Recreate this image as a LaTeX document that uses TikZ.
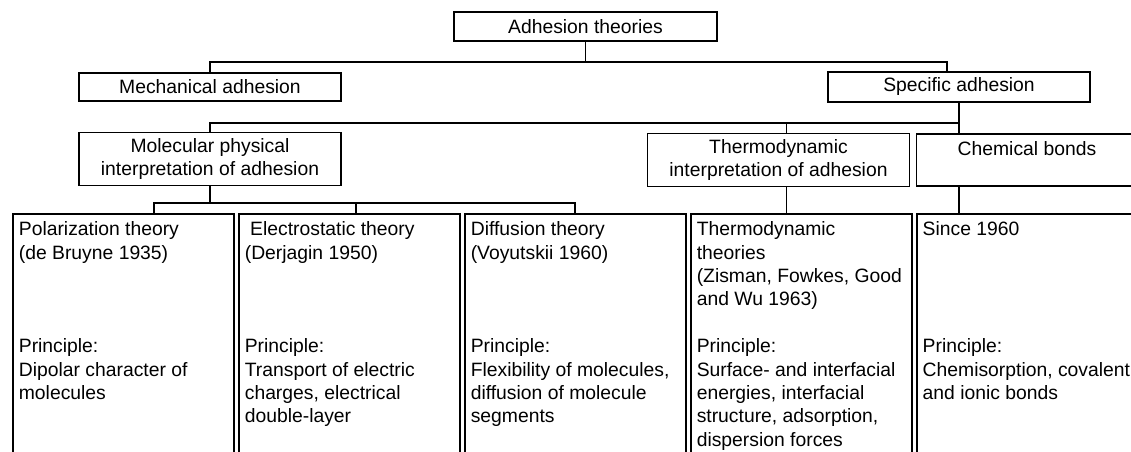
\documentclass[tikz,border=0pt]{standalone}
\usepackage{fontspec}
\setmainfont{Liberation Sans}
\usetikzlibrary{positioning}

\newcommand{\theorytext}[1]{\parbox[t][6cm][t]{4.18cm}{\raggedright #1}}

\begin{document}
\begin{tikzpicture}[x=0.02cm, y=-0.02cm,
        every node/.style={font=\fontsize{11}{13.3}\selectfont},
        headbox/.style={rectangle, draw, line width=\boxlinewidth, align=center, minimum width=5.24cm},
        theorybox/.style={rectangle, draw, line width=\boxlinewidth, inner xsep=0.12cm, inner ysep=0.16cm},
        link/.style={line width=\boxlinewidth}]
        \def\boxgap{0.065cm}
        \def\boxlinewidth{1pt}

        \useasboundingbox (0,0) rectangle (1131,452);
        \clip (0,0) rectangle (1131,452);

        % heads
        \node[headbox, minimum width=5.26cm, minimum height=0.58cm] (root) at (585.5,26.5) {Adhesion theories};
        \node[headbox, minimum height=0.56cm] (mech) at (210,87) {Mechanical adhesion};
        \node[headbox, minimum height=0.56cm] (spec) at (959,87) {Specific adhesion};
        \node[headbox, minimum height=1.04cm] (molec) at (210,159) {Molecular physical\\interpretation of adhesion};
        \node[headbox, minimum height=1.04cm] (thermo) at (778.5,160) {Thermodynamic\\interpretation of adhesion};
        \node[headbox, minimum height=1.04cm, minimum width=4.42cm, right=0.105cm of thermo] (chem) {Chemical bonds\\\phantom{x}};

        % theories
        \node[theorybox, anchor=north west] (polar) at (12,213) {\theorytext{Polarization theory\\(de Bruyne 1935)\\[3\baselineskip]Principle:\\Dipolar character of\\molecules}};
        \node[theorybox, right=\boxgap of polar] (elec) {\theorytext{\ Electrostatic theory\\(Derjagin 1950)\\[3\baselineskip]Principle:\\Transport of electric\\charges, electrical\\double-layer}};
        \node[theorybox, right=\boxgap of elec] (diff) {\theorytext{Diffusion theory\\(Voyutskii 1960)\\[3\baselineskip]Principle:\\Flexibility of molecules,\\diffusion of molecule\\segments}};
        \node[theorybox, right=\boxgap of diff] (thth) {\theorytext{Thermodynamic\\theories\\(Zisman, Fowkes, Good\\and Wu 1963)\\[\baselineskip]Principle:\\Surface- and interfacial\\energies, interfacial\\structure, adsorption,\\dispersion forces}};
        \node[theorybox, right=\boxgap of thth] (since) {\theorytext{Since 1960\\[4\baselineskip]Principle:\\Chemisorption, covalent\\and ionic bonds}};

        % connectors
        \coordinate (split1) at (585.5,62);
        \coordinate (split2) at (959,123);
        \coordinate (split3) at (210,203);
        \coordinate (thtop) at ([xshift=0.16cm]thermo.north);
        \coordinate (thfoot) at ([xshift=0.16cm]thermo.south);
        \coordinate (chfoot) at (spec.south |- chem.south);
        \coordinate (elstem) at ([xshift=0.13cm]elec.north);

        \draw[link] (root.south) -- (split1);
        \draw[link] (mech.north) |- (split1) -| ([xshift=-0.24cm]spec.north);

        \draw[link] (spec.south) -- (split2) -- (split2 |- chem.north);
        \draw[link] (molec.north) |- (split2);
        \draw[link] (thtop) |- (split2);

        \draw[link] (molec.south) -- (split3);
        \draw[link] ([xshift=0.61cm]polar.north) |- (split3) -| (diff.north);
        \draw[link] (elstem) |- (split3);
        \draw[link] (thfoot) -- (thfoot |- thth.north);
        \draw[link] (chfoot) -- (chfoot |- since.north);
    \end{tikzpicture}
\end{document}
